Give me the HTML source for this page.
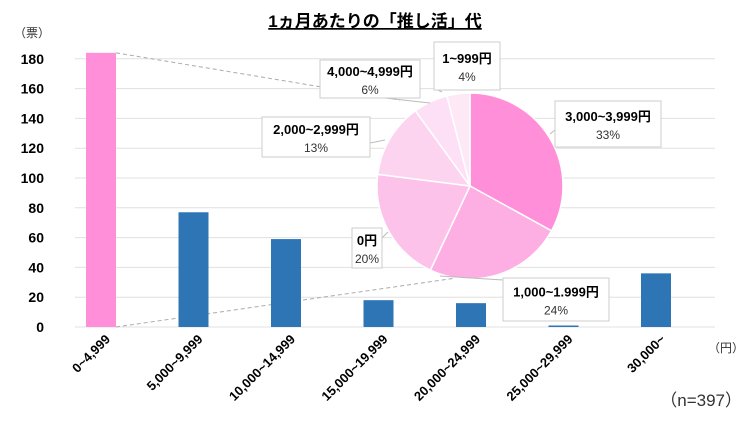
<!DOCTYPE html>
<html><head><meta charset="utf-8"><style>
body{margin:0;background:#fff;}
svg{display:block;font-family:"Liberation Sans","Noto Sans CJK JP",sans-serif;}
</style></head><body>
<svg id="c" width="750" height="422">
<text x="375" y="27" text-anchor="middle" font-size="17" font-weight="bold" text-decoration="underline">1ヵ月あたりの「推し活」代</text>
<text x="14" y="37" font-size="12" fill="#333">（票）</text>
<text x="708" y="352" font-size="12" fill="#333">（円）</text>
<text x="742" y="406" text-anchor="end" font-size="17" fill="#333">（n=397）</text>
<g id="grid"></g><g id="conn"></g><g id="bars"></g><g id="xl"></g><g id="pie"></g><g id="labels"></g>
</svg>
<script>
const categories=["0~4,999","5,000~9,999","10,000~14,999","15,000~19,999","20,000~24,999","25,000~29,999","30,000~"];
const values=[184,77,59,18,16,1,36];
const yTicks=[0,20,40,60,80,100,120,140,160,180];
const pieLabels=["3,000~3,999円","1,000~1.999円","0円","2,000~2,999円","4,000~4,999円","1~999円"];
const pieValues=[33,24,20,13,6,4];
const pieColors=["#ff8fd9","#fdaee3","#fdc2ea","#fdd4f0","#fde0f5","#fde9f6"];
const NS="http://www.w3.org/2000/svg";
function mk(t,a,p){const e=document.createElementNS(NS,t);for(const k in a)e.setAttribute(k,a[k]);p.appendChild(e);return e;}
const y=v=>327-v*1.49, x=i=>101+i*92.5;
const g=document.getElementById('grid');
yTicks.forEach(v=>{
 const l=mk('line',{x1:75,x2:715,y1:y(v),y2:y(v),stroke:'#e0e0e0','stroke-width':1},g);
 
 
 const t=mk('text',{x:44,y:y(v)+5,'text-anchor':'end','font-size':14,'font-weight':'bold'},g);
 t.textContent=v;
 
 
});
const cn=document.getElementById('conn');
const d1=mk('line',{x1:x(0)+15,y1:y(values[0]),x2:400,y2:100,stroke:'#aaa','stroke-dasharray':'4 3'},cn);


const d2=mk('line',{x1:x(0)+15,y1:y(0),x2:470,y2:276,stroke:'#aaa','stroke-dasharray':'4 3'},cn);


const b=document.getElementById('bars');
values.forEach((v,i)=>{
 const r=mk('rect',{x:x(i)-15,y:y(v),width:30,height:y(0)-y(v),fill:i==0?'#ff8fd9':'#2e75b6'},b);
 
 
});
const xl=document.getElementById('xl');
categories.forEach((c,i)=>{
 const t=mk('text',{x:x(i)+10,y:340,'text-anchor':'end','font-size':13,'font-weight':'bold',transform:`rotate(-45 ${x(i)+10} 340)`},xl);
 t.textContent=c;
 
 
});
const p=document.getElementById('pie');
const cx=470,cy=186,R=93;
const tot=pieValues.reduce((a,b)=>a+b,0);let a0=0;
pieValues.forEach((v,i)=>{
 const a1=a0+v/tot*2*Math.PI;
 const P=a=>[cx+R*Math.sin(a),cy-R*Math.cos(a)];
 const [x0,y0]=P(a0),[x1,y1]=P(a1);
 const s=mk('path',{d:`M${cx},${cy}L${x0},${y0}A${R},${R} 0 ${a1-a0>Math.PI?1:0} 1 ${x1},${y1}Z`,fill:pieColors[i],stroke:'#fff','stroke-width':1.5},p);
 
 
 a0=a1;
});
const boxes=[[555,101,106,46],[503,278,106,43],[352,228,30,40],[262,117,108,40],[320,60,100,38],[434,42,66,48]];
const leaders=[[555,130,550,134],[503,280,440,276],[382,238,388,232],[370,143,385,140],[385,98,430,103],[434,88,442,92]];
const L=document.getElementById('labels');
pieLabels.forEach((n,i)=>{
 const [bx,by,bw,bh]=boxes[i];
 const ll=mk('line',{x1:leaders[i][0],y1:leaders[i][1],x2:leaders[i][2],y2:leaders[i][3],stroke:'#bbb'},L);
 
 
 const r=mk('rect',{x:bx,y:by,width:bw,height:bh,fill:'#fff',stroke:'#ccc'},L);
 
 
 const t=mk('text',{x:bx+bw/2,y:by+bh/2-3,'text-anchor':'middle','font-size':13,'font-weight':'bold'},L);
 t.textContent=n;
 
 
 const t2=mk('text',{x:bx+bw/2,y:by+bh/2+15,'text-anchor':'middle','font-size':12,fill:'#333'},L);
 t2.textContent=pieValues[i]+'%';
 
 
});
</script>
</body></html>
